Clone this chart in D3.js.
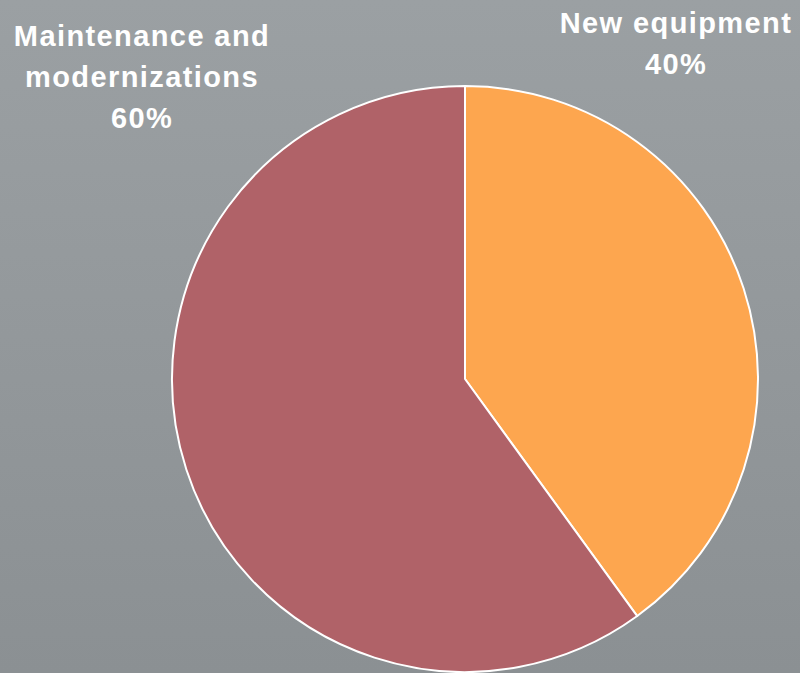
<!DOCTYPE html>
<html>
<head>
<meta charset="utf-8">
<script src="https://cdn.jsdelivr.net/npm/d3@7"></script>
<style>
  html, body { margin: 0; padding: 0; }
  svg { display: block; }
</style>
</head>
<body>
<svg id="chart"></svg>
<script>
// Data
const categories = ["New equipment", "Maintenance and modernizations"];
const shares = [40, 60];
const labelLines = [["New equipment", "40%"], ["Maintenance and", "modernizations", "60%"]];
const colors = ["#fda64f", "#b06268"];

const width = 800, height = 673;
const cx = 465, cy = 379, radius = 293;

const svg = d3.select("#chart").attr("width", width).attr("height", height);

// Background gradient
const grad = svg.append("defs").append("linearGradient")
  .attr("id", "bg").attr("x1", 0).attr("y1", 0).attr("x2", 0).attr("y2", 1);
grad.append("stop").attr("offset", "0%").attr("stop-color", "#9ba0a3");
grad.append("stop").attr("offset", "100%").attr("stop-color", "#8b9093");
svg.append("rect").attr("width", width).attr("height", height).attr("fill", "url(#bg)");

const data = categories.map((c, i) => ({ name: c, value: shares[i], lines: labelLines[i], color: colors[i] }));

const pie = d3.pie().value(d => d.value).sort(null);
const arc = d3.arc().innerRadius(0).outerRadius(radius);

const g = svg.append("g").attr("transform", "translate(" + cx + "," + cy + ")");

g.selectAll("path")
  .data(pie(data))
  .enter()
  .append("path")
  .attr("d", arc)
  .attr("fill", d => d.data.color)
  .attr("stroke", "#ffffff")
  .attr("stroke-width", 2)
  .attr("stroke-linejoin", "round");

// Labels (letter-spacing adds a trailing gap, so nudge x a little right)
const labelPos = [{ x: 676, y: 33 }, { x: 142, y: 46 }];
const lineHeight = 41;

data.forEach((d, i) => {
  const t = svg.append("text")
    .attr("x", labelPos[i].x)
    .attr("y", labelPos[i].y)
    .attr("text-anchor", "middle")
    .attr("fill", "#ffffff")
    .attr("font-family", "Liberation Sans, Arial, sans-serif")
    .attr("font-weight", "bold")
    .attr("font-size", 29)
    .attr("letter-spacing", 1.4);
  d.lines.forEach((line, j) => {
    t.append("tspan")
      .attr("x", labelPos[i].x)
      .attr("y", labelPos[i].y + j * lineHeight)
      .text(line);
  });
});
</script>
</body>
</html>
